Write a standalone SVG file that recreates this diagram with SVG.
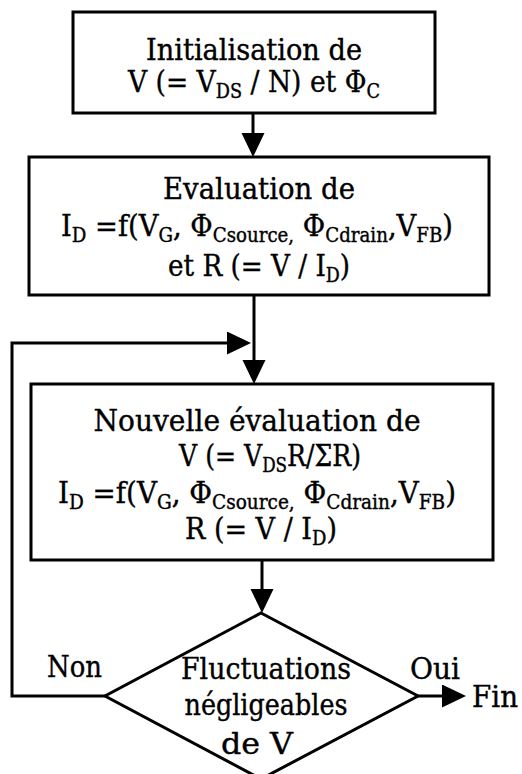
<svg xmlns="http://www.w3.org/2000/svg" width="522" height="774" viewBox="0 0 522 774">
<style>
  .box { fill: #fff; stroke: #000; stroke-width: 3; }
  .t { font-family: "DejaVu Serif", "Liberation Serif", serif; font-size: 30px; fill: #000; stroke: #000; stroke-width: 0.4; text-anchor: middle; }
  .l { font-family: "DejaVu Serif", "Liberation Serif", serif; font-size: 30px; fill: #000; stroke: #000; stroke-width: 0.4; }
  .s { font-size: 20px; }
  .c { fill: none; stroke: #000; stroke-width: 3; }
</style>
<defs>
  <marker id="ah" markerUnits="userSpaceOnUse" markerWidth="24" markerHeight="24" refX="0" refY="11.5" orient="auto">
    <path d="M0,0 L24,11.5 L0,23 z" fill="#000"/>
  </marker>
</defs>
<rect width="522" height="774" fill="#fff"/>
<g id="connectors">
  <path class="c" d="M253,113 V133" marker-end="url(#ah)"/>
  <path class="c" d="M254,295 V360" marker-end="url(#ah)"/>
  <path class="c" d="M105,696 H12 V343 H227" marker-end="url(#ah)"/>
  <path class="c" d="M262,560 V589" marker-end="url(#ah)"/>
  <path class="c" d="M418,696 H442" marker-end="url(#ah)"/>
</g>
<g id="init">
  <rect class="box" x="73" y="12" width="362" height="101"/>
  <text class="t" x="254" y="60" textLength="216" lengthAdjust="spacingAndGlyphs">Initialisation de</text>
  <text class="t" x="254" y="92" textLength="252" lengthAdjust="spacingAndGlyphs">V (= V<tspan class="s" dy="6">DS</tspan><tspan dy="-6"> / N) et Φ</tspan><tspan class="s" dy="6">C</tspan></text>
</g>
<g id="eval">
  <rect class="box" x="29" y="157" width="460" height="138"/>
  <text class="t" x="259" y="199" textLength="192" lengthAdjust="spacingAndGlyphs">Evaluation de</text>
  <text class="t" x="257" y="236" textLength="392" lengthAdjust="spacingAndGlyphs">I<tspan class="s" dy="6">D</tspan><tspan dy="-6"> =f(V</tspan><tspan class="s" dy="6">G</tspan><tspan dy="-6">, Φ</tspan><tspan class="s" dy="6">Csource,</tspan><tspan dy="-6"> Φ</tspan><tspan class="s" dy="6">Cdrain</tspan><tspan dy="-6">,V</tspan><tspan class="s" dy="6">FB</tspan><tspan dy="-6">)</tspan></text>
  <text class="t" x="259" y="276" textLength="182" lengthAdjust="spacingAndGlyphs">et R (= V / I<tspan class="s" dy="6">D</tspan><tspan dy="-6">)</tspan></text>
</g>
<g id="newEval">
  <rect class="box" x="31" y="384" width="462" height="176"/>
  <text class="t" x="257" y="431" textLength="327" lengthAdjust="spacingAndGlyphs">Nouvelle évaluation de</text>
  <text class="t" x="270" y="466" textLength="182" lengthAdjust="spacingAndGlyphs">V (= V<tspan class="s" dy="6">DS</tspan><tspan dy="-6">R/ΣR)</tspan></text>
  <text class="t" x="257" y="503" textLength="398" lengthAdjust="spacingAndGlyphs">I<tspan class="s" dy="6">D</tspan><tspan dy="-6"> =f(V</tspan><tspan class="s" dy="6">G</tspan><tspan dy="-6">, Φ</tspan><tspan class="s" dy="6">Csource,</tspan><tspan dy="-6"> Φ</tspan><tspan class="s" dy="6">Cdrain</tspan><tspan dy="-6">,V</tspan><tspan class="s" dy="6">FB</tspan><tspan dy="-6">)</tspan></text>
  <text class="t" x="261" y="539" textLength="152" lengthAdjust="spacingAndGlyphs">R (= V / I<tspan class="s" dy="6">D</tspan><tspan dy="-6">)</tspan></text>
</g>
<g id="decision">
  <polygon class="box" points="261,613 418,696 261,779 105,696"/>
  <text class="t" x="266" y="679" textLength="170" lengthAdjust="spacingAndGlyphs">Fluctuations</text>
  <text class="t" x="266" y="715" textLength="163" lengthAdjust="spacingAndGlyphs">négligeables</text>
  <text class="t" x="257" y="754" textLength="72" lengthAdjust="spacingAndGlyphs">de V</text>
</g>
<g id="labels">
  <text class="l" x="47" y="677" textLength="55" lengthAdjust="spacingAndGlyphs">Non</text>
  <text class="l" x="410" y="679" textLength="50" lengthAdjust="spacingAndGlyphs">Oui</text>
  <text class="l" x="472" y="707" textLength="46" lengthAdjust="spacingAndGlyphs">Fin</text>
</g>
</svg>
